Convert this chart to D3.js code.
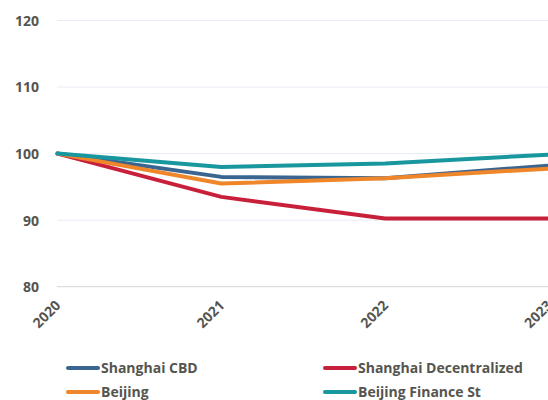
<!DOCTYPE html>
<html><head><meta charset="utf-8">
<script src="https://cdn.jsdelivr.net/npm/d3@7"></script>
<style>
body{margin:0;background:#fff;}
text{font-family:"Open Sans",sans-serif;font-weight:700;fill:#555550;}
</style></head>
<body>
<svg id="c" width="548" height="400"></svg>
<script>
const years = ["2020","2021","2022","2023"];
const yTicks = [80, 90, 100, 110, 120];
const seriesNames = ["Shanghai CBD","Shanghai Decentralized","Beijing","Beijing Finance St"];
const shanghaiCBD = [100, 96.5, 96.3, 98.2];
const shanghaiDecentralized = [100, 93.5, 90.25, 90.25];
const beijing = [100, 95.5, 96.3, 97.75];
const beijingFinanceSt = [100, 98.0, 98.5, 99.85];
const colors = ["#3b6591","#c8203b","#ef8629","#18979e"];

const seriesVals = [shanghaiCBD, shanghaiDecentralized, beijing, beijingFinanceSt];
const svg = d3.select("#c");
const x = d3.scalePoint().domain(years).range([57.5, 549]);
const y = d3.scaleLinear().domain([80,120]).range([286.7, 20.5]);

// gridlines
svg.append("g").selectAll("line").data(yTicks).join("line")
  .attr("x1",57).attr("x2",548)
  .attr("y1",d=>y(d)).attr("y2",d=>y(d))
  .attr("stroke",d=>d===80?"#d6d6d6":"#e7ecf5").attr("stroke-width",1);

// y axis labels
const yAxis = d3.axisLeft(y).tickValues(yTicks).tickSize(0).tickPadding(0);
const gy = svg.append("g").attr("transform","translate(39,0)").call(yAxis);
gy.select(".domain").remove();
gy.selectAll("text").style("font-size","14px").attr("fill","#555550").attr("font-family","Open Sans").attr("font-weight",700).attr("dy","0.35em");

// x axis labels
const xAxis = d3.axisBottom(x).tickSize(0).tickPadding(0);
const gx = svg.append("g").attr("transform","translate(0,300)").call(xAxis);
gx.select(".domain").remove();
gx.selectAll("text").style("font-size","14px").attr("fill","#555550").attr("font-family","Open Sans").attr("font-weight",700)
  .attr("text-anchor","end").attr("dy","0.35em").attr("x",-2).attr("y",2)
  .attr("transform","rotate(-45)");

// lines
const line = d3.line().x((d,i)=>x(years[i])).y(d=>y(d));
svg.append("g").selectAll("path").data(seriesVals).join("path")
  .attr("d",line).attr("fill","none")
  .attr("stroke",(d,i)=>colors[i]).attr("stroke-width",4)
  .attr("stroke-linejoin","round").attr("stroke-linecap","round");

// legend
const legPos = [[67,368],[324,368],[67,392],[324,392]];
const lg = svg.append("g").selectAll("g").data(seriesNames).join("g")
  .attr("transform",(d,i)=>`translate(${legPos[i][0]},${legPos[i][1]})`);
lg.append("line").attr("x1",1).attr("x2",31).attr("y1",0).attr("y2",0)
  .attr("stroke",(d,i)=>colors[i]).attr("stroke-width",4).attr("stroke-linecap","round");
lg.append("text").attr("x",34).attr("y",0).attr("dy","0.35em")
  .style("font-size","14px").text(d=>d);
</script>
</body></html>
